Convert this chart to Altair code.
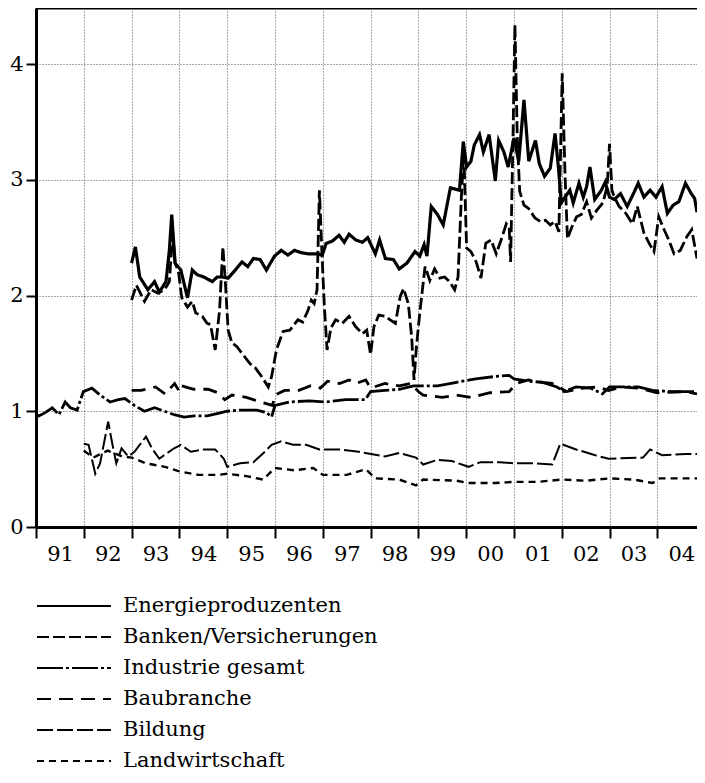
import altair as alt
import pandas as pd

series_names = ["Energieproduzenten", "Banken/Versicherungen", "Industrie gesamt",
                "Baubranche", "Bildung", "Landwirtschaft"]

energie_t = [1993.0, 1993.08, 1993.17, 1993.34, 1993.48, 1993.58, 1993.72, 1993.79, 1993.84, 1993.91,
             1994.03, 1994.17, 1994.27, 1994.37, 1994.51, 1994.69, 1994.79, 1994.89, 1995.02, 1995.17,
             1995.31, 1995.43, 1995.55, 1995.69, 1995.82, 1995.99, 1996.13, 1996.27, 1996.41, 1996.55,
             1996.7, 1996.89, 1996.99, 1997.07, 1997.2, 1997.34, 1997.45, 1997.55, 1997.69, 1997.83,
             1997.94, 1998.10, 1998.19, 1998.31, 1998.48, 1998.60, 1998.76, 1998.93, 1999.03, 1999.12,
             1999.18, 1999.27, 1999.40, 1999.52, 1999.67, 1999.86, 1999.94, 2000.01, 2000.10, 2000.17,
             2000.28, 2000.36, 2000.48, 2000.61, 2000.68, 2000.79, 2000.88, 2001.0, 2001.10, 2001.21,
             2001.31, 2001.45, 2001.53, 2001.64, 2001.76, 2001.86, 2001.93, 2001.99, 2002.07, 2002.17,
             2002.24, 2002.36, 2002.45, 2002.52, 2002.59, 2002.69, 2002.83, 2002.91, 2003.0, 2003.1,
             2003.23, 2003.37, 2003.5, 2003.6, 2003.72, 2003.85, 2003.97, 2004.1, 2004.21, 2004.33,
             2004.45, 2004.59, 2004.71, 2004.78, 2004.83]
energie_v = [2.28, 2.42, 2.16, 2.05, 2.12, 2.03, 2.12, 2.39, 2.70, 2.28,
             2.22, 1.98, 2.22, 2.18, 2.16, 2.12, 2.16, 2.16, 2.15, 2.22,
             2.29, 2.25, 2.32, 2.31, 2.22, 2.34, 2.39, 2.35, 2.39, 2.37,
             2.36, 2.36, 2.35, 2.45, 2.47, 2.52, 2.46, 2.53, 2.48, 2.46,
             2.50, 2.36, 2.48, 2.32, 2.31, 2.23, 2.28, 2.38, 2.34, 2.44,
             2.34, 2.77, 2.70, 2.61, 2.93, 2.91, 3.33, 3.11, 3.16, 3.30,
             3.39, 3.24, 3.39, 2.99, 3.34, 3.24, 3.11, 3.36, 3.16, 3.69,
             3.16, 3.34, 3.14, 3.03, 3.10, 3.40, 3.11, 2.80, 2.85, 2.91,
             2.80, 2.97, 2.85, 2.94, 3.11, 2.83, 2.91, 2.98, 2.85, 2.83,
             2.88, 2.77, 2.88, 2.97, 2.85, 2.91, 2.85, 2.94, 2.71, 2.78,
             2.81, 2.97, 2.88, 2.84, 2.72]

banken_t = [1993.0, 1993.1, 1993.27, 1993.41, 1993.55, 1993.69, 1993.79, 1993.86, 1993.91, 1993.98,
            1994.05, 1994.17, 1994.27, 1994.34, 1994.48, 1994.58, 1994.65, 1994.75, 1994.84, 1994.91,
            1994.96, 1995.02, 1995.1, 1995.2, 1995.31, 1995.48, 1995.58, 1995.72, 1995.86, 1995.93,
            1996.03, 1996.17, 1996.31, 1996.48, 1996.58, 1996.69, 1996.76, 1996.82, 1996.88, 1996.93,
            1996.98, 1997.03, 1997.09, 1997.17, 1997.27, 1997.41, 1997.55, 1997.69, 1997.83, 1997.92,
            1998.0, 1998.07, 1998.17, 1998.31, 1998.41, 1998.52, 1998.62, 1998.69, 1998.79, 1998.86,
            1998.91, 1998.96, 1999.03, 1999.14, 1999.24, 1999.34, 1999.45, 1999.55, 1999.65, 1999.76,
            1999.83, 1999.9, 1999.95, 2000.01, 2000.1, 2000.21, 2000.31, 2000.41, 2000.52, 2000.63,
            2000.74, 2000.84, 2000.9, 2000.93, 2000.98, 2001.02, 2001.07, 2001.12, 2001.21, 2001.31,
            2001.44, 2001.55, 2001.66, 2001.76, 2001.86, 2001.94, 2002.01, 2002.07, 2002.12, 2002.21,
            2002.31, 2002.41, 2002.52, 2002.62, 2002.74, 2002.86, 2002.95, 2003.0, 2003.05, 2003.1,
            2003.2, 2003.34, 2003.48, 2003.58, 2003.72, 2003.83, 2003.93, 2004.03, 2004.14, 2004.24,
            2004.35, 2004.48, 2004.62, 2004.72, 2004.83]
banken_v = [1.96, 2.09, 1.95, 2.05, 2.02, 2.05, 2.12, 2.54, 2.28, 2.21,
            1.98, 1.90, 1.95, 1.85, 1.82, 1.76, 1.75, 1.53, 1.87, 2.42,
            2.13, 1.70, 1.59, 1.56, 1.50, 1.41, 1.38, 1.30, 1.21, 1.30,
            1.53, 1.69, 1.70, 1.79, 1.77, 1.87, 1.96, 1.93, 2.05, 2.91,
            2.39, 1.93, 1.53, 1.72, 1.79, 1.76, 1.82, 1.73, 1.67, 1.70,
            1.49, 1.73, 1.83, 1.82, 1.79, 1.76, 1.99, 2.06, 1.93, 1.64,
            1.27, 1.56, 1.85, 2.25, 2.13, 2.23, 2.15, 2.16, 2.12, 2.05,
            2.16, 2.85, 3.24, 2.41, 2.38, 2.29, 2.15, 2.45, 2.48, 2.36,
            2.49, 2.62, 2.59, 2.29, 3.36, 4.34, 3.36, 2.90, 2.78, 2.75,
            2.67, 2.64, 2.65, 2.61, 2.64, 2.55, 3.92, 3.03, 2.49, 2.59,
            2.68, 2.70, 2.81, 2.67, 2.74, 2.80, 2.94, 3.31, 2.91, 2.85,
            2.77, 2.71, 2.62, 2.77, 2.54, 2.45, 2.38, 2.68, 2.57, 2.48,
            2.36, 2.39, 2.51, 2.57, 2.32]

industrie_t = [1991.0, 1991.06, 1991.2, 1991.34, 1991.48, 1991.61, 1991.72, 1991.86, 1991.99, 1992.17,
               1992.34, 1992.55, 1992.72, 1992.86, 1993.06, 1993.27, 1993.48, 1993.69, 1993.89, 1994.1,
               1994.31, 1994.58, 1994.79, 1995.0, 1995.27, 1995.62, 1995.82, 1995.93, 1996.0, 1996.31,
               1996.72, 1997.07, 1997.48, 1997.89, 1998.0, 1998.3, 1998.6, 1998.9, 1999.1, 1999.4,
               1999.8, 2000.2, 2000.6, 2000.9, 2001.0, 2001.3, 2001.6, 2001.9, 2002.05, 2002.3,
               2002.6, 2002.85, 2003.0, 2003.3, 2003.6, 2003.9, 2004.3, 2004.83]
industrie_v = [0.97, 0.96, 0.99, 1.03, 0.97, 1.08, 1.03, 1.01, 1.17, 1.20,
               1.14, 1.08, 1.10, 1.11, 1.05, 1.00, 1.03, 1.00, 0.97, 0.95,
               0.96, 0.96, 0.98, 1.00, 1.01, 1.01, 0.99, 0.95, 1.05, 1.08,
               1.09, 1.08, 1.10, 1.10, 1.17, 1.18, 1.19, 1.22, 1.22, 1.22,
               1.25, 1.28, 1.30, 1.31, 1.28, 1.26, 1.25, 1.21, 1.17, 1.21,
               1.20, 1.15, 1.21, 1.21, 1.21, 1.18, 1.17, 1.17]

bau_t = [1993.0, 1993.2, 1993.5, 1993.7, 1993.9, 1994.0, 1994.05, 1994.3, 1994.6, 1994.8,
         1994.95, 1995.1, 1995.4, 1995.7, 1995.95, 1996.0, 1996.2, 1996.5, 1996.75, 1996.95,
         1997.1, 1997.35, 1997.55, 1997.7, 1997.9, 1998.0, 1998.3, 1998.6, 1998.85, 1999.0,
         1999.1, 1999.5, 1999.8, 2000.1, 2000.5, 2000.9, 2001.05, 2001.3, 2001.6, 2001.8,
         2002.1, 2002.45, 2002.75, 2002.98, 2003.25, 2003.6, 2004.0, 2004.6, 2004.83]
bau_v = [1.18, 1.18, 1.21, 1.15, 1.24, 1.17, 1.22, 1.19, 1.19, 1.16,
         1.10, 1.14, 1.12, 1.08, 1.05, 1.14, 1.18, 1.18, 1.22, 1.20,
         1.26, 1.24, 1.27, 1.24, 1.27, 1.20, 1.24, 1.22, 1.24, 1.17,
         1.14, 1.12, 1.14, 1.12, 1.16, 1.17, 1.24, 1.27, 1.25, 1.24,
         1.17, 1.20, 1.21, 1.18, 1.21, 1.20, 1.16, 1.17, 1.15]

bildung_t = [1992.0, 1992.1, 1992.24, 1992.34, 1992.51, 1992.61, 1992.68, 1992.79, 1992.93, 1993.06,
             1993.30, 1993.44, 1993.58, 1993.75, 1993.89, 1994.03, 1994.24, 1994.51, 1994.75, 1994.93,
             1995.0, 1995.27, 1995.55, 1995.76, 1995.93, 1996.13, 1996.38, 1996.65, 1996.93, 1997.34,
             1997.75, 1998.3, 1998.6, 1998.95, 1999.1, 1999.4, 1999.7, 2000.05, 2000.3, 2000.7,
             2001.0, 2001.4, 2001.8, 2001.97, 2002.3, 2002.7, 2002.98, 2003.7, 2003.85, 2004.1,
             2004.6, 2004.83]
bildung_v = [0.72, 0.71, 0.46, 0.55, 0.91, 0.69, 0.55, 0.68, 0.61, 0.65,
             0.78, 0.67, 0.59, 0.64, 0.68, 0.71, 0.65, 0.67, 0.67, 0.59,
             0.52, 0.55, 0.56, 0.64, 0.71, 0.74, 0.71, 0.71, 0.67, 0.67,
             0.65, 0.61, 0.64, 0.60, 0.54, 0.58, 0.57, 0.52, 0.56, 0.56,
             0.55, 0.55, 0.54, 0.72, 0.67, 0.62, 0.59, 0.60, 0.67, 0.62,
             0.63, 0.63]

land_t = [1992.0, 1992.2, 1992.5, 1992.8, 1993.0, 1993.3, 1993.7, 1994.0, 1994.4, 1994.8,
          1995.0, 1995.4, 1995.75, 1996.0, 1996.4, 1996.8, 1997.0, 1997.5, 1997.9, 1998.1,
          1998.6, 1998.95, 1999.1, 1999.8, 2000.05, 2000.6, 2001.0, 2001.5, 2002.0, 2002.5,
          2003.0, 2003.5, 2003.9, 2004.05, 2004.83]
land_v = [0.66, 0.60, 0.66, 0.61, 0.60, 0.55, 0.52, 0.48, 0.45, 0.45,
          0.46, 0.44, 0.41, 0.51, 0.49, 0.51, 0.45, 0.45, 0.50, 0.42,
          0.41, 0.36, 0.41, 0.40, 0.38, 0.38, 0.39, 0.39, 0.41, 0.40,
          0.42, 0.41, 0.38, 0.42, 0.42]

year_ticks = list(range(1991, 2005))
y_ticks = [0, 1, 2, 3, 4]

all_series = [energie_t, banken_t, industrie_t, bau_t, bildung_t, land_t]
all_values = [energie_v, banken_v, industrie_v, bau_v, bildung_v, land_v]

rows = []
for name, ts, vs in zip(series_names, all_series, all_values):
    for t, v in zip(ts, vs):
        rows.append({"serie": name, "t": t, "v": v})
df = pd.DataFrame(rows)

dashes = [[1, 0], [12, 4], [26, 3, 3, 3], [14, 8], [16, 4], [7, 5]]
widths = [3.2, 2.8, 2.8, 2.8, 2.0, 2.4]

FONT = "DejaVu Serif"
X_DOMAIN = [1991, 2004.83]
Y_DOMAIN = [0, 4.484]

x_scale = alt.Scale(domain=X_DOMAIN, nice=False, zero=False)
y_scale = alt.Scale(domain=Y_DOMAIN, nice=False, zero=True)

x_enc = alt.X(
    "t:Q",
    scale=x_scale,
    axis=alt.Axis(
        values=year_ticks,
        labelExpr="substring(toString(datum.value), 2)",
        labelOffset=24,
        labelFlush=False,
        labelOverlap=False,
        labelAlign="center",
        tickSize=11,
        labelPadding=5,
        title=None,
        grid=True,
    ),
)
y_enc = alt.Y(
    "v:Q",
    scale=y_scale,
    axis=alt.Axis(values=y_ticks, format="d", tickSize=10, labelPadding=3,
                  title=None, grid=True),
)

legend = alt.Legend(
    title=None,
    orient="none",
    legendX=0,
    legendY=587,
    symbolType="stroke",
    symbolSize=5476,
    symbolStrokeWidth=2,
    symbolStrokeColor="black",
    labelFont=FONT,
    labelFontSize=21,
    labelColor="black",
    labelOffset=11,
    labelLimit=600,
    rowPadding=9,
    clipHeight=22,
    padding=0,
)

layers = []
for name, w in zip(series_names, widths):
    layers.append(
        alt.Chart(df)
        .transform_filter(alt.datum.serie == name)
        .mark_line(color="black", strokeWidth=w, strokeCap="butt", strokeJoin="miter")
        .encode(
            x=x_enc,
            y=y_enc,
            strokeDash=alt.StrokeDash(
                "serie:N",
                scale=alt.Scale(domain=series_names, range=dashes),
                legend=legend,
            ),
        )
    )

# top frame line drawn at the upper end of the value scale
top_frame = (
    alt.Chart(pd.DataFrame({"k": [0]}))
    .mark_rule(color="black", strokeWidth=3)
    .encode(
        x=alt.X(datum=X_DOMAIN[0], type="quantitative"),
        x2=alt.X2(datum=X_DOMAIN[1]),
        y=alt.Y(datum=Y_DOMAIN[1], type="quantitative"),
    )
)

chart = (
    alt.layer(*layers, top_frame)
    .properties(
        width=661,
        height=519,
        padding={"left": 28, "top": 0, "right": 0, "bottom": 244},
        autosize=alt.AutoSizeParams(type="none"),
    )
    .configure_view(stroke=None)
    .configure_axis(
        domainColor="black",
        domainWidth=3,
        tickColor="black",
        tickWidth=2,
        gridColor="#222",
        gridDash=[1, 2],
        gridWidth=0.8,
        labelFont=FONT,
        labelFontSize=21,
        labelColor="black",
    )
)

chart.save("out.html", embed_options={"renderer": "svg", "actions": False})
